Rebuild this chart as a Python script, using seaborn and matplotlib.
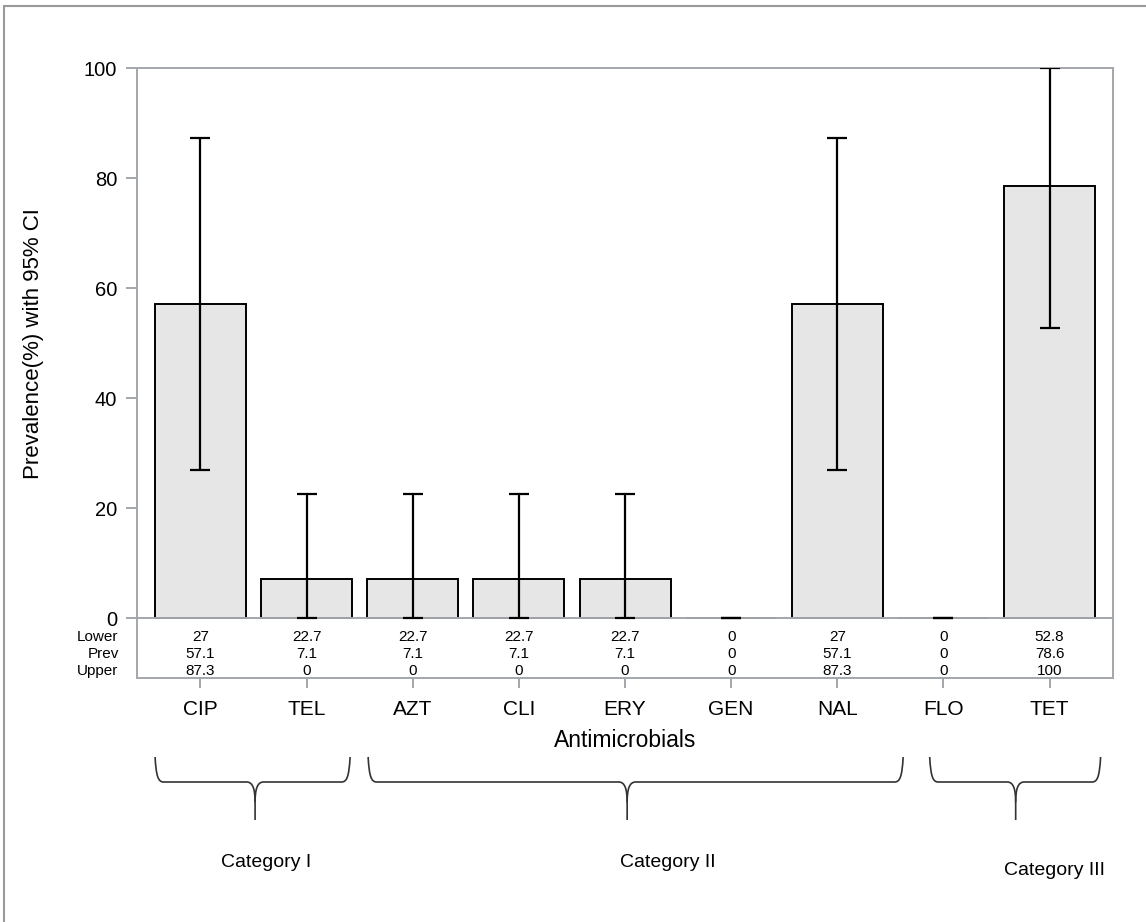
import matplotlib
matplotlib.use("Agg")
import matplotlib.pyplot as plt
from matplotlib.path import Path
from matplotlib.patches import PathPatch
from matplotlib.lines import Line2D
from matplotlib.transforms import blended_transform_factory
import numpy as np
import seaborn as sns

# Antimicrobial resistance prevalence with 95% confidence limits
drugs = ["CIP", "TEL", "AZT", "CLI", "ERY", "GEN", "NAL", "FLO", "TET"]
prev = [57.1, 7.1, 7.1, 7.1, 7.1, 0, 57.1, 0, 78.6]
lower = [27, 22.7, 22.7, 22.7, 22.7, 0, 27, 0, 52.8]
upper = [87.3, 0, 0, 0, 0, 0, 87.3, 0, 100]

# Drug groupings shown with braces under the axis
groups = ["Category I", "Category II", "Category III"]
group_members = [["CIP", "TEL"], ["AZT", "CLI", "ERY", "GEN", "NAL"], ["FLO", "TET"]]

sns.set_theme(style="white")
plt.rcParams["font.family"] = ["Liberation Sans", "DejaVu Sans"]
plt.rcParams["text.color"] = "black"
plt.rcParams["axes.labelcolor"] = "black"

GRID = "#a3a7ab"
fig = plt.figure(figsize=(11.46, 9.22), dpi=100)
ax = fig.add_axes([0.1193, 0.2646, 0.8522, 0.6613])

sns.barplot(x=drugs, y=prev, color="#e6e6e6", edgecolor="black",
            linewidth=1.4, width=0.857, saturation=1, ax=ax, errorbar=None)

xpos = np.arange(len(drugs))
ci_lo = np.minimum(lower, upper)
ci_hi = np.maximum(lower, upper)
yerr = np.vstack([np.array(prev) - ci_lo, ci_hi - np.array(prev)])
ax.errorbar(xpos, prev, yerr=yerr, fmt="none", ecolor="black",
            elinewidth=1.6, capsize=7, capthick=1.6, zorder=4)

ax.set_xlim(-0.6, 8.6)
ax.set_ylim(-10.85, 100)
ax.set_yticks([0, 20, 40, 60, 80, 100])
ax.set_yticklabels(["0", "20", "40", "60", "80", "100"], fontsize=14.5)
ax.axhline(0, color=GRID, lw=1.4, zorder=1)
for s in ax.spines.values():
    s.set_color(GRID)
    s.set_linewidth(1.4)
ax.tick_params(axis="y", which="both", left=True, length=8, width=1.4,
               color=GRID, pad=6, labelcolor="black")
ax.tick_params(axis="x", which="both", bottom=True, length=7, width=1.4,
               color=GRID, pad=9, labelcolor="black")
ax.set_xticks(xpos)
ax.set_xticklabels(drugs, fontsize=15)
ax.set_xlabel("Antimicrobials", fontsize=16.5, labelpad=7)
ax.set_ylabel("Prevalence(%) with 95% CI", fontsize=16)
# centre the y label on the 0-100 data range
ax.yaxis.set_label_coords(-0.095, 50, transform=blended_transform_factory(ax.transAxes, ax.transData))

# Statistics table inside the lower strip of the axes
row_y = [-3.3, -6.4, -9.5]
rows = [("Lower", lower), ("Prev", prev), ("Upper", upper)]
for yy, (name, vals) in zip(row_y, rows):
    ax.text(-0.77, yy, name, ha="right", va="center", fontsize=11,
            clip_on=False)
    for x, v in zip(xpos, vals):
        ax.text(x, yy, f"{v:g}", ha="center", va="center", fontsize=11)

# Curly braces grouping the drugs
trans = blended_transform_factory(ax.transData, fig.transFigure)
brace_spans = [(-0.427, 1.41, 0.515), (1.58, 6.62, 4.02), (6.87, 8.48, 7.68)]
label_pos = [(0.62, 0.064), (4.40, 0.064), (8.05, 0.056)]
yt, yh, yb = 1 - 757 / 922, 1 - 782 / 922, 1 - 820 / 922
d = 0.08
for (xl, xr, xc), name, (lx, ly) in zip(brace_spans, groups, label_pos):
    verts = [
        (xl, yt), (xl + 0.01, yh + 0.006), (xl + 0.03, yh), (xl + d, yh),
        (xc - d, yh),
        (xc - 0.02, yh), (xc, yh - 0.008), (xc, yh - 0.022),
        (xc, yb),
    ]
    codes = [Path.MOVETO, Path.CURVE4, Path.CURVE4, Path.CURVE4,
             Path.LINETO, Path.CURVE4, Path.CURVE4, Path.CURVE4, Path.LINETO]
    verts_r = [
        (xr, yt), (xr - 0.01, yh + 0.006), (xr - 0.03, yh), (xr - d, yh),
        (xc + d, yh),
        (xc + 0.02, yh), (xc, yh - 0.008), (xc, yh - 0.022),
    ]
    codes_r = codes[:-1]
    for v, c in ((verts, codes), (verts_r, codes_r)):
        p = PathPatch(Path(v, c), transform=trans, fill=False,
                      edgecolor="#333333", lw=1.2, clip_on=False)
        fig.add_artist(p)
    fig.text(lx, ly, name, transform=trans, ha="center", va="center",
             fontsize=14, color="black")

# Outer frame lines
fig.add_artist(Line2D([0.0035, 0.0035], [0, 1 - 6.5 / 922],
                      transform=fig.transFigure, color="#999999", lw=1.5))
fig.add_artist(Line2D([0.0035, 1], [1 - 6.5 / 922, 1 - 6.5 / 922],
                      transform=fig.transFigure, color="#999999", lw=1.5))

fig.savefig("out.png", dpi=100)
